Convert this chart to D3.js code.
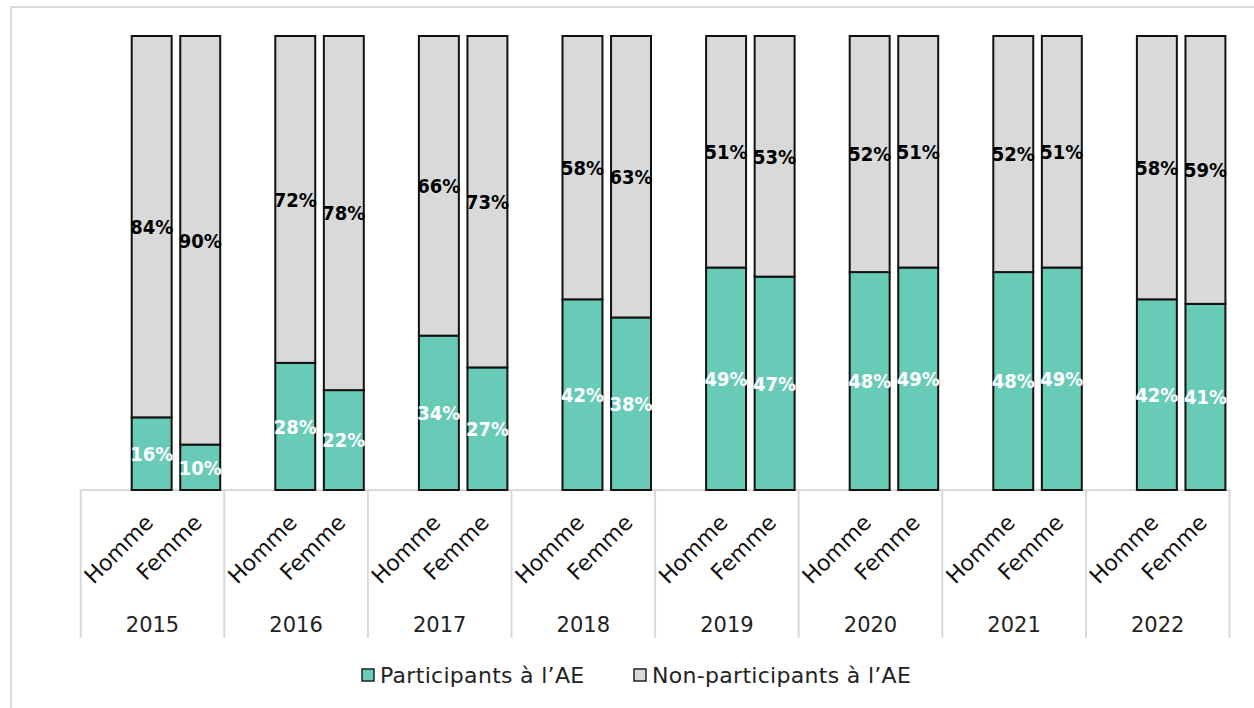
<!DOCTYPE html>
<html>
<head>
<meta charset="utf-8">
<script src="https://cdn.jsdelivr.net/npm/d3@7"></script>
<style>
  html, body { margin: 0; padding: 0; background: #fff; }
  svg { display: block; }
  text { font-family: "DejaVu Sans", sans-serif; }
  text.value { font-family: "DejaVu Sans Condensed", "DejaVu Sans", sans-serif; font-stretch: condensed; }
</style>
</head>
<body>
<svg id="chart" width="1254" height="708"></svg>
<script>
// Participation à l'AE par sexe, 2015–2022 (en %)
const years = ["2015", "2016", "2017", "2018", "2019", "2020", "2021", "2022"];
const sexes = ["Homme", "Femme"];
const participantsHomme = [16, 28, 34, 42, 49, 48, 48, 42];
const participantsFemme = [10, 22, 27, 38, 47, 49, 49, 41];
const nonParticipantsHomme = [84, 72, 66, 58, 51, 52, 52, 58];
const nonParticipantsFemme = [90, 78, 73, 63, 53, 51, 51, 59];
const seriesNames = ["Participants à l’AE", "Non-participants à l’AE"];

const colors = { part: "#68CBB8", non: "#D9D9D9" };
const gridColor = "#D9D9D9";

const svg = d3.select("#chart");

// Outer chart frame
svg.append("rect")
  .attr("x", 11).attr("y", 7)
  .attr("width", 1400).attr("height", 900)
  .attr("fill", "none").attr("stroke", gridColor).attr("stroke-width", 2);

// Scales (100 % stacked: rounded shares may sum to 101, clamp at the top)
const x0 = d3.scaleBand().domain(years).range([80.7, 1229.5]).padding(0);
const x1 = d3.scaleBand().domain(sexes).range([50, 140.5]).paddingInner(0.136).paddingOuter(0);
const y = d3.scaleLinear().domain([0, 100]).range([490, 36]).clamp(true);

// Flatten into stacked records
const rows = [];
years.forEach((yr, i) => {
  rows.push({ year: yr, sex: "Homme", part: participantsHomme[i], non: nonParticipantsHomme[i] });
  rows.push({ year: yr, sex: "Femme", part: participantsFemme[i], non: nonParticipantsFemme[i] });
});
const stack = d3.stack().keys(["part", "non"]);
const stacked = stack(rows);

const barW = x1.bandwidth() - 2;
const barX = d => x0(d.data.year) + x1(d.data.sex) + 1;

// Category axis: baseline and group separators
const axis = svg.append("g");
axis.append("line")
  .attr("x1", x0.range()[0]).attr("x2", x0.range()[1])
  .attr("y1", y(0)).attr("y2", y(0))
  .attr("stroke", gridColor).attr("stroke-width", 2);
const bounds = years.map(yr => x0(yr)).concat([x0.range()[1]]);
axis.selectAll("line.sep").data(bounds).join("line")
  .attr("class", "sep")
  .attr("x1", d => d).attr("x2", d => d)
  .attr("y1", y(0)).attr("y2", 638)
  .attr("stroke", gridColor).attr("stroke-width", 2);

// Bars
const layers = svg.append("g").selectAll("g").data(stacked).join("g")
  .attr("fill", d => colors[d.key]);
layers.selectAll("rect").data(d => d).join("rect")
  .attr("x", barX)
  .attr("width", barW)
  .attr("y", d => y(d[1]))
  .attr("height", d => y(d[0]) - y(d[1]))
  .attr("stroke", "#111")
  .attr("stroke-width", 2);

// Value labels
const labels = svg.append("g");
stacked.forEach(layer => {
  labels.selectAll(null).data(layer).join("text")
    .attr("class", "value")
    .attr("x", d => barX(d) + barW / 2)
    .attr("y", d => (y(d[0]) + y(d[1])) / 2)
    .attr("dy", "0.36em")
    .attr("text-anchor", "middle")
    .attr("font-size", 20)
    .attr("font-weight", "bold")
    .attr("fill", layer.key === "part" ? "#fff" : "#000")
    .text(d => d.data[layer.key] + "%");
});

// Sex labels (rotated)
const sexLabels = svg.append("g");
rows.forEach(r => {
  const cx = x0(r.year) + x1(r.sex) + x1.bandwidth() / 2;
  sexLabels.append("text")
    .attr("transform", `translate(${cx + 3},${524}) rotate(-45)`)
    .attr("text-anchor", "end")
    .attr("font-size", 22)
    .attr("fill", "#111")
    .text(r.sex);
});

// Year labels
svg.append("g").selectAll("text").data(years).join("text")
  .attr("x", d => x0(d) + x0.bandwidth() / 2)
  .attr("y", 632)
  .attr("text-anchor", "middle")
  .attr("font-size", 21)
  .attr("fill", "#222")
  .text(d => d);

// Legend
const legend = svg.append("g");
const legendItems = [
  { name: seriesNames[0], color: colors.part, x: 362 },
  { name: seriesNames[1], color: colors.non, x: 634 }
];
legendItems.forEach(it => {
  legend.append("rect")
    .attr("x", it.x).attr("y", 669).attr("width", 12).attr("height", 12)
    .attr("fill", it.color).attr("stroke", "#222").attr("stroke-width", 1.5);
  legend.append("text")
    .attr("x", it.x + 18).attr("y", 683)
    .attr("font-size", 22).attr("letter-spacing", 0.3).attr("fill", "#222")
    .text(it.name);
});
</script>
</body>
</html>
